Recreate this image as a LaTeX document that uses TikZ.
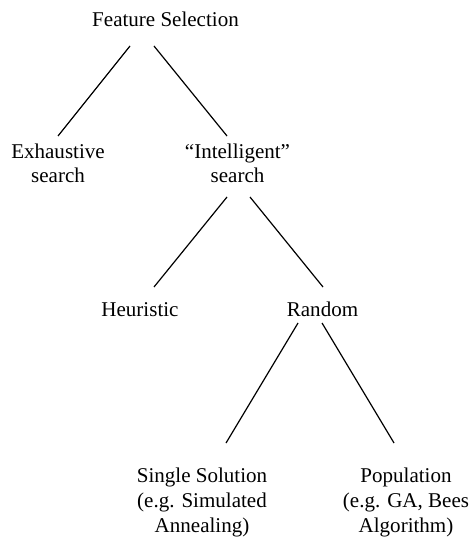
\documentclass[tikz,border=0pt]{standalone}
\usepackage{fontspec}
\setmainfont{Liberation Serif}
\begin{document}
\begin{tikzpicture}[x=1bp,y=-1bp,
  lbl/.style={inner sep=0pt,align=center,anchor=base,font=\fontsize{21.1}{24.6}\selectfont},
  edge/.style={line width=1.2bp}]
\useasboundingbox (0,0) rectangle (470,538);
\node[lbl] (fs) at (165.5,27) {Feature Selection};
\node[lbl] (ex) at (58,183) {Exhaustive\\search};
\node[lbl] (in) at (237.5,183) {“Intelligent”\\search};
\node[lbl] (he) at (140,316) {Heuristic};
\node[lbl] (ra) at (322.5,316) {Random};
\node[lbl] (ss) at (202,532) {Single Solution\\(e.g. Simulated\\Annealing)};
\node[lbl] (po) at (406,532) {Population\\(e.g. GA, Bees\\Algorithm)};
\draw[edge] ([shift={(-35.5,19)}]fs.base) -- ([shift={(0,-47)}]ex.base);
\draw[edge] ([shift={(-11.5,19)}]fs.base) -- ([shift={(-10.5,-47)}]in.base);
\draw[edge] ([shift={(-10.5,14)}]in.base) -- ([shift={(14,-29)}]he.base);
\draw[edge] ([shift={(12.5,14)}]in.base) -- ([shift={(0.5,-29)}]ra.base);
\draw[edge] ([shift={(-24.5,7)}]ra.base) -- ([shift={(24,-89)}]ss.base);
\draw[edge] ([shift={(-0.5,7)}]ra.base) -- ([shift={(-12,-89)}]po.base);
\end{tikzpicture}
\end{document}
